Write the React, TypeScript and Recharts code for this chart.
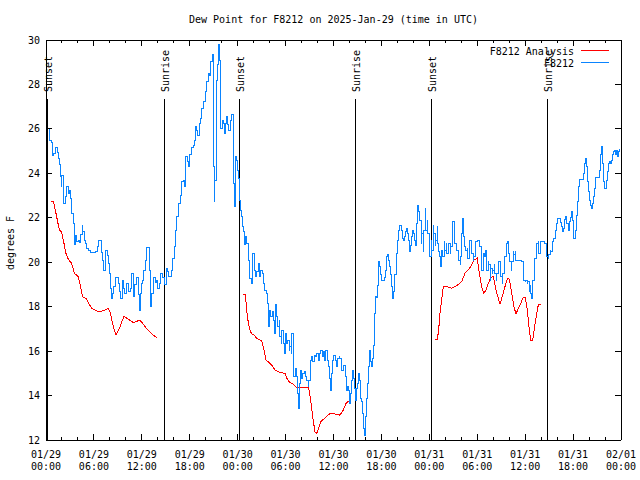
import React from 'react';
import { LineChart, Line, XAxis, YAxis, ReferenceLine, ReferenceDot, Legend } from 'recharts';

const FONT = "'DejaVu Sans Mono', 'Liberation Mono', monospace";
const W = 640;
const H = 480;
const PLOT_LEFT = 46;
const PLOT_RIGHT = 621;
const PLOT_TOP = 40;
const PLOT_BOTTOM = 440;
const BLUE = '#0a84ff';
const RED = '#ff0000';

// hours since 2025-01-29 00:00 UTC, dew point (F)
const blue29: [number, number][] = [
  [0.17,26.0],[0.29,26.0],[0.5,25.5],[0.71,25.4],[0.84,24.8],[1.0,24.9],[1.25,25.17],[1.42,24.95],[1.54,24.68],[1.67,24.4],[1.84,23.85],[1.92,23.4],[2.0,23.9],[2.17,22.95],[2.25,22.65],[2.42,22.95],[2.59,23.4],[2.8,23.1],[2.92,23.25],[3.09,22.88],[3.21,22.2],[3.42,21.75],[3.55,20.78],[3.67,21.2],[3.84,20.95],[4.05,21.0],[4.17,20.9],[4.34,21.25],[4.51,21.67],[4.63,21.4],[4.8,21.0],[4.97,20.85],[5.09,20.62],[5.3,20.55],[5.51,20.45],[6.14,20.47],[6.43,20.7],[6.59,21.0],[6.76,21.0],[6.93,20.45],[7.05,20.1],[7.18,19.65],[7.39,20.2],[7.51,20.55],[7.68,20.3],[7.8,19.95],[7.93,19.5],[8.06,18.83],[8.18,18.38],[8.35,18.6],[8.51,18.9],[8.68,19.3],[8.85,19.33],[9.02,19.05],[9.18,18.7],[9.35,18.38],[9.52,19.2],[9.68,18.8],[9.89,18.6],[10.1,19.05],[10.31,18.7],[10.52,18.8],[10.73,19.5],[10.94,18.45],[11.14,19.0],[11.35,19.33],[11.56,18.53],[11.69,17.85],[11.85,18.6],[11.98,19.05],[12.1,19.2],[12.27,19.65],[12.44,20.1],[12.6,20.67],[12.81,20.67],[12.94,19.65],[13.07,18.0],[13.23,18.6],[13.44,19.3],[13.65,19.1],[13.86,19.2],[13.98,18.83],[14.15,19.05],[14.36,19.5],[14.57,19.3],[14.78,19.27],[14.9,18.98],[15.03,19.73],[15.19,19.6],[15.36,19.35],[15.53,19.35],[15.69,19.65],[15.86,20.17],[16.03,20.7],[16.19,21.45],[16.36,22.05],[16.57,22.65],[16.78,23.02],[16.99,23.62],[17.2,23.7],[17.32,23.4],[17.45,24.15],[17.53,24.75],[17.7,24.53],[17.82,24.3],[18.03,24.83],[18.24,25.17],[18.45,25.27],[18.57,25.5],[18.74,26.1],[18.87,25.95],[18.99,25.72],[19.2,26.25],[19.37,26.47],[19.49,26.93],[19.7,27.22],[19.91,27.67],[20.12,28.12],[20.33,28.5],[20.45,28.42],[20.62,29.02],[20.79,29.33],[20.87,29.33],[20.95,24.3],[21.04,22.72],[21.16,23.7],[21.29,28.2],[21.45,28.9],[21.62,29.78],[21.7,29.1],[21.79,27.0],[21.91,26.0],[22.04,26.4],[22.21,26.25],[22.33,25.8],[22.46,26.25],[22.62,26.55],[22.75,26.18],[22.87,25.95],[23.04,26.4],[23.17,26.55],[23.29,26.63],[23.42,25.65],[23.54,23.55],[23.63,22.5],[23.75,24.75],[23.88,24.6],[24.0,24.15],
];

const blue30: [number, number][] = [
  [24.13,23.78],[24.21,23.33],[24.29,22.8],[24.38,22.35],[24.5,22.05],[24.63,21.6],[24.71,21.4],[24.83,20.78],[25.0,21.15],[25.13,20.85],[25.34,20.1],[25.54,19.27],[25.75,19.05],[25.88,20.4],[26.05,19.65],[26.21,19.35],[26.38,19.6],[26.55,19.95],[26.71,19.35],[26.88,19.65],[27.05,19.5],[27.21,19.05],[27.38,18.75],[27.55,18.6],[27.71,18.15],[27.88,17.1],[27.97,17.85],[28.13,17.55],[28.3,17.78],[28.47,17.4],[28.59,16.8],[28.76,18.08],[28.88,17.55],[29.01,17.1],[29.18,17.4],[29.3,16.65],[29.43,16.35],[29.55,16.95],[29.72,16.35],[29.89,15.9],[30.01,16.8],[30.14,16.35],[30.3,16.5],[30.43,16.05],[30.55,16.2],[30.68,15.9],[30.8,16.8],[30.93,15.45],[31.05,14.85],[31.22,15.22],[31.35,14.85],[31.47,14.1],[31.6,13.42],[31.72,14.55],[31.89,15.15],[32.01,14.78],[32.14,15.0],[32.31,15.08],[32.47,14.85],[32.64,14.7],[32.81,14.4],[32.93,14.7],[33.06,15.6],[33.22,15.75],[33.39,15.52],[33.56,15.82],[33.73,15.75],[33.89,15.9],[34.06,15.6],[34.23,15.9],[34.39,16.05],[34.56,15.75],[34.73,15.97],[34.89,15.6],[35.06,16.05],[35.23,15.6],[35.4,15.3],[35.52,14.78],[35.65,14.25],[35.77,15.0],[35.9,15.6],[36.06,15.82],[36.23,15.6],[36.4,15.3],[36.56,15.67],[36.73,15.75],[36.81,15.67],[37.02,15.15],[37.23,15.37],[37.44,14.85],[37.57,14.25],[37.73,14.4],[37.86,14.25],[37.98,13.65],[38.15,14.1],[38.28,14.7],[38.4,15.15],[38.49,14.78],[38.61,14.33],[38.74,13.8],[38.82,14.33],[38.99,14.55],[39.11,15.0],[39.24,14.7],[39.32,13.87],[39.45,13.72],[39.57,13.2],[39.7,12.53],[39.82,12.22],[39.95,13.05],[40.07,13.87],[40.24,14.55],[40.36,15.3],[40.49,16.05],[40.61,15.52],[40.74,15.3],[40.86,15.67],[40.99,16.27],[41.11,17.7],[41.24,18.45],[41.41,18.43],[41.53,18.97],[41.66,20.02],[41.78,19.8],[41.91,19.43],[42.03,19.2],[42.24,19.2],[42.41,19.32],[42.53,19.65],[42.66,20.25],[42.78,20.33],[42.91,20.1],[43.03,19.8],[43.16,19.43],[43.28,18.9],[43.41,18.38],[43.54,18.68],[43.7,19.43],[43.83,20.4],[43.99,21.0],[44.12,21.45],[44.25,21.67],[44.41,21.67],[44.54,21.45],[44.66,21.07],[44.79,21.0],[44.91,21.15],[45.04,21.37],[45.16,21.52],[45.29,21.3],[45.41,21.0],[45.54,20.47],[45.66,20.77],[45.79,21.15],[45.91,21.45],[46.04,21.3],[46.17,21.0],[46.29,20.77],[46.42,21.75],[46.54,22.57],[46.67,22.27],[46.83,21.9],[46.96,20.85],[47.08,21.3],[47.21,20.47],[47.33,21.45],[47.46,22.42],[47.58,21.45],[47.71,21.9],[47.83,21.3],[47.96,20.7],
];

const blue31: [number, number][] = [
  [48.08,20.25],[48.21,21.0],[48.33,20.55],[48.46,21.67],[48.58,21.3],[48.71,20.77],[48.83,21.0],[48.96,21.6],[49.08,20.85],[49.21,20.47],[49.33,20.25],[49.46,19.8],[49.58,20.55],[49.71,20.25],[49.84,20.92],[49.96,20.55],[50.09,20.85],[50.21,20.4],[50.34,20.62],[50.46,20.85],[50.59,20.4],[50.71,20.7],[50.84,21.6],[50.96,21.82],[51.09,21.15],[51.21,20.85],[51.34,20.55],[51.46,20.55],[51.59,20.4],[51.71,20.1],[51.84,19.88],[51.96,20.25],[52.09,21.3],[52.21,21.97],[52.34,21.15],[52.46,20.7],[52.59,20.55],[52.72,20.62],[52.84,20.18],[52.97,20.92],[53.09,21.0],[53.22,21.0],[53.34,20.4],[53.47,20.1],[53.59,20.25],[53.72,20.7],[53.84,20.92],[53.97,21.0],[54.09,21.0],[54.22,20.85],[54.34,20.7],[54.47,20.1],[54.59,19.65],[54.72,20.03],[54.84,20.4],[54.97,20.25],[55.09,20.55],[55.22,19.65],[55.35,20.03],[55.47,19.88],[55.6,19.2],[55.72,19.73],[55.85,19.5],[55.97,19.65],[56.1,19.88],[56.22,19.5],[56.35,19.2],[56.47,19.5],[56.6,19.65],[56.72,20.03],[56.85,19.8],[56.97,19.35],[57.1,19.05],[57.22,19.5],[57.35,19.8],[57.47,20.25],[57.6,20.62],[57.72,20.85],[57.85,20.92],[57.97,20.4],[58.1,20.03],[58.23,19.65],[58.35,20.03],[58.48,20.47],[58.6,20.33],[58.73,20.47],[58.85,20.1],[59.1,20.1],[59.35,20.1],[59.6,20.03],[59.73,19.65],[59.85,19.2],[59.98,19.13],[60.1,19.2],[60.23,19.05],[60.35,19.13],[60.48,18.67],[60.6,18.97],[60.73,18.6],[60.85,18.37],[60.98,19.2],[61.11,19.8],[61.23,20.18],[61.36,20.47],[61.48,20.85],[61.61,20.92],[61.73,20.4],[61.86,20.85],[61.98,20.92],[62.23,20.92],[62.48,20.85],[62.61,20.62],[62.73,20.25],[62.86,20.18],[62.98,20.33],[63.11,20.55],[63.23,20.47],[63.36,20.62],[63.48,20.92],[63.61,21.07],[63.74,21.45],[63.87,21.75],[64.03,21.97],[64.2,21.97],[64.37,21.77],[64.53,21.6],[64.66,21.37],[64.78,21.52],[64.91,21.92],[65.03,22.05],[65.2,21.75],[65.37,21.45],[65.49,21.82],[65.62,22.0],[65.74,22.27],[65.87,21.9],[65.99,21.07],[66.16,21.07],[66.29,21.45],[66.41,22.12],[66.54,22.72],[66.66,23.4],[66.79,23.73],[67.12,23.73],[67.25,24.0],[67.37,24.45],[67.5,24.68],[67.62,24.3],[67.75,23.63],[67.87,23.18],[68.0,22.8],[68.12,22.57],[68.25,22.42],[68.37,22.65],[68.5,22.95],[68.62,23.33],[68.75,23.82],[69.17,23.82],[69.29,24.15],[69.42,24.83],[69.54,25.23],[69.67,24.45],[69.79,23.62],[69.92,23.33],[70.08,23.33],[70.21,23.7],[70.34,24.08],[70.46,24.45],[70.59,24.53],[70.71,24.45],[70.84,24.6],[70.96,24.83],[71.09,24.98],[71.21,25.05],[71.34,24.87],[71.46,25.05],[71.59,24.75],[71.71,24.98],[71.84,25.08],
];

const red29: [number, number][] = [
  [0.63,22.74],[0.92,22.74],[1.25,22.2],[1.67,21.45],[1.96,21.37],[2.25,20.85],[2.5,20.4],[2.8,20.13],[3.21,19.95],[3.55,19.5],[4.05,19.35],[4.59,18.45],[5.01,18.37],[5.72,17.92],[6.55,17.77],[7.18,17.82],[7.8,17.92],[8.01,17.77],[8.43,17.1],[8.77,16.72],[9.27,17.1],[9.77,17.58],[10.31,17.43],[10.94,17.28],[11.77,17.4],[12.4,17.1],[12.81,16.92],[13.44,16.72],[13.94,16.58],
];

const red30: [number, number][] = [
  [24.71,18.57],[24.96,18.57],[25.13,17.85],[25.34,17.25],[25.54,16.95],[25.75,16.77],[26.05,16.72],[26.38,16.58],[27.0,16.47],[27.21,16.2],[27.55,15.6],[27.84,15.52],[28.26,15.37],[28.67,15.15],[29.3,15.04],[29.93,15.0],[30.22,14.73],[30.55,14.58],[30.97,14.52],[31.39,14.35],[31.89,14.35],[32.43,14.37],[32.89,14.37],[33.14,13.8],[33.39,13.05],[33.68,12.37],[33.89,12.3],[34.1,12.48],[34.39,12.82],[34.73,12.93],[35.14,13.05],[35.56,13.2],[35.98,13.2],[36.4,13.15],[36.81,13.12],[37.23,13.35],[37.57,13.65],[37.98,13.77],
];

const red31: [number, number][] = [
  [48.71,16.53],[49.0,16.53],[49.17,16.95],[49.33,17.7],[49.54,18.3],[49.75,18.9],[50.17,18.9],[50.8,18.83],[51.21,18.9],[51.63,19.0],[52.05,19.13],[52.46,19.5],[52.88,19.65],[53.3,19.88],[53.59,20.1],[54.0,20.18],[54.26,19.5],[54.55,18.9],[54.84,18.6],[55.09,18.75],[55.39,19.05],[55.68,19.32],[56.01,19.35],[56.35,18.75],[56.64,18.37],[56.85,18.12],[57.1,18.42],[57.47,18.9],[57.77,19.27],[58.02,19.23],[58.31,18.6],[58.6,18.0],[58.85,17.67],[59.14,17.93],[59.44,18.15],[59.77,18.42],[60.02,18.42],[60.27,17.85],[60.48,17.1],[60.69,16.5],[60.94,16.5],[61.19,17.1],[61.44,17.7],[61.65,18.08],[61.94,18.08],
];

const sunHours = [0.15, 14.81, 24.2, 38.73, 48.25, 62.77];
const sunLabels = ['Sunset', 'Sunrise', 'Sunset', 'Sunrise', 'Sunset', 'Sunrise'];
const SUN_LINE_TOP = 27.34;
const SUN_LABEL_Y = 27.66;

const xTickHours = [0,2,4,6,8,10,12,14,16,18,20,22,24,26,28,30,32,34,36,38,40,42,44,46,48,50,52,54,56,58,60,62,64,66,68,70,72];
const xMajorHours = [0,6,12,18,24,30,36,42,48,54,60,66,72];
const xTickDates = ['01/29','01/29','01/29','01/29','01/30','01/30','01/30','01/30','01/31','01/31','01/31','01/31','02/01'];
const xTickTimes = ['00:00','06:00','12:00','18:00','00:00','06:00','12:00','18:00','00:00','06:00','12:00','18:00','00:00'];
const yTicks = [12,14,16,18,20,22,24,26,28,30];

const toRows = (arr: [number, number][]) => arr.map(([h, v]) => ({ h, v }));
const blueData = [...toRows(blue29), ...toRows(blue30), ...toRows(blue31)];
const redData = [
  ...toRows(red29), { h: 19, v: null },
  ...toRows(red30), { h: 43, v: null },
  ...toRows(red31),
];

const XTick = (props: any) => {
  const { x, payload } = props;
  const idx = xMajorHours.indexOf(payload.value);
  const major = idx >= 0;
  const len = major ? 6 : 3;
  return (
    <g>
      <line x1={x} x2={x} y1={PLOT_BOTTOM} y2={PLOT_BOTTOM - len} stroke="#000" />
      <line x1={x} x2={x} y1={PLOT_TOP} y2={PLOT_TOP + len} stroke="#000" />
      {major && (
        <text x={x} y={PLOT_BOTTOM + 18} textAnchor="middle" fontFamily={FONT} fontSize={10} fill="#000">
          {xTickDates[idx]}
        </text>
      )}
      {major && (
        <text x={x} y={PLOT_BOTTOM + 30} textAnchor="middle" fontFamily={FONT} fontSize={10} fill="#000">
          {xTickTimes[idx]}
        </text>
      )}
    </g>
  );
};

const YTick = (props: any) => {
  const { y, payload } = props;
  return (
    <g>
      <line x1={PLOT_LEFT} x2={PLOT_LEFT + 6} y1={y} y2={y} stroke="#000" />
      <line x1={PLOT_RIGHT} x2={PLOT_RIGHT - 6} y1={y} y2={y} stroke="#000" />
      <text x={PLOT_LEFT - 6} y={y + 3.5} textAnchor="end" fontFamily={FONT} fontSize={10} fill="#000">
        {payload.value}
      </text>
    </g>
  );
};

const SunLabel = (text: string) => (props: any) => {
  const { cx, cy } = props;
  const tx = cx + 4.5;
  return (
    <text x={tx} y={cy} transform={`rotate(-90 ${tx} ${cy})`} textAnchor="start" fontFamily={FONT} fontSize={10} fill="#000">
      {text}
    </text>
  );
};

const LegendContent = () => (
  <svg width={150} height={32} style={{ display: 'block', overflow: 'visible' }}>
    <text x={104} y={16.5} textAnchor="end" fontFamily={FONT} fontSize={10} fill="#000">F8212 Analysis</text>
    <line x1={111} x2={139} y1={12.5} y2={12.5} stroke={RED} />
    <text x={104} y={28.5} textAnchor="end" fontFamily={FONT} fontSize={10} fill="#000">F8212</text>
    <line x1={111} x2={139} y1={24.5} y2={24.5} stroke={BLUE} />
  </svg>
);

export default function App() {
  return (
    <div style={{ position: 'absolute', left: 0, top: 0, width: W, height: H, background: '#fff', shapeRendering: 'crispEdges' }}>
      <LineChart
        width={W}
        height={H}
        margin={{ top: PLOT_TOP, right: W - PLOT_RIGHT, bottom: 0, left: 0 }}
      >
        <XAxis
          type="number"
          dataKey="h"
          domain={[0, 72]}
          ticks={xTickHours}
          interval={0}
          allowDataOverflow
          height={H - PLOT_BOTTOM}
          tickSize={0}
          tickMargin={0}
          tickLine={false}
          tick={<XTick />}
          axisLine={{ stroke: '#000' }}
        />
        <YAxis
          type="number"
          domain={[12, 30]}
          ticks={yTicks}
          interval={0}
          allowDataOverflow
          width={PLOT_LEFT}
          tickSize={0}
          tickMargin={0}
          tickLine={false}
          tick={<YTick />}
          axisLine={{ stroke: '#000' }}
        />
        <ReferenceLine y={30} stroke="#000" />
        <ReferenceLine x={72} stroke="#000" />
        {sunHours.map((h, i) => (
          <ReferenceLine
            key={'sl' + i}
            segment={[{ x: h, y: SUN_LINE_TOP }, { x: h, y: 12 }]}
            stroke="#000"
          />
        ))}
        {sunHours.map((h, i) => (
          <ReferenceDot key={'sd' + i} x={h} y={SUN_LABEL_Y} r={0} shape={SunLabel(sunLabels[i])} />
        ))}
        <Line
          data={redData}
          dataKey="v"
          type="linear"
          stroke={RED}
          strokeWidth={1}
          dot={false}
          activeDot={false}
          connectNulls={false}
          isAnimationActive={false}
        />
        <Line
          data={blueData}
          dataKey="v"
          type="stepAfter"
          stroke={BLUE}
          strokeWidth={1}
          dot={false}
          activeDot={false}
          isAnimationActive={false}
        />
        <Legend
          layout="horizontal"
          verticalAlign="middle"
          align="center"
          content={<LegendContent />}
          wrapperStyle={{ left: 470, top: 38, width: 150, height: 32, margin: 0, padding: 0, lineHeight: 0 }}
        />
      </LineChart>
      <svg width={W} height={H} style={{ position: 'absolute', left: 0, top: 0, pointerEvents: 'none' }}>
        <text x={333.5} y={23} textAnchor="middle" fontFamily={FONT} fontSize={10} fill="#000">
          Dew Point for F8212 on 2025-Jan-29 (time in UTC)
        </text>
        <text x={14} y={243} transform="rotate(-90 14 243)" textAnchor="middle" fontFamily={FONT} fontSize={10} fill="#000">
          degrees F
        </text>
      </svg>
    </div>
  );
}
